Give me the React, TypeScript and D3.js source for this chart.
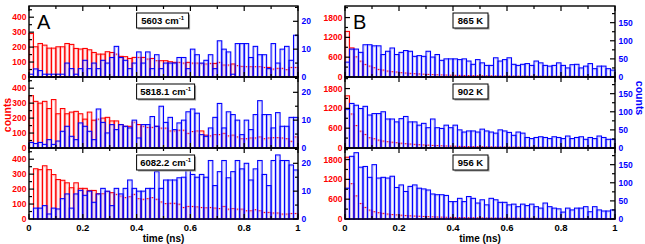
import React from 'react';
import * as d3 from 'd3';

// 60 time bins of 1/60 ns each
const BINS = 60;

const redA1 = [291, 202, 224, 213, 193, 193, 202, 202, 224, 218, 191, 187, 191, 182, 164, 153, 153, 169, 164, 153, 138, 136, 124, 131, 131, 131, 120, 124, 109, 109, 109, 102, 98, 98, 93, 98, 93, 93, 87, 87, 91, 91, 98, 80, 80, 87, 76, 71, 69, 69, 69, 69, 64, 64, 53, 58, 58, 49, 64, 64];
const blueA1 = [1, 2.9, 2.3, 1, 1, 1, 1, 1, 5, 3, 1, 3, 6, 3, 5, 3, 6, 5, 7, 11, 7, 6, 3, 5, 9, 5, 9, 3, 8, 3, 5, 5, 5, 7, 7, 3, 10, 8, 5, 6, 8, 3, 13, 10, 9, 1, 12, 12, 12, 7, 11, 8, 8, 3, 12, 5, 10, 11, 6, 15];
const redA2 = [350, 312, 300, 312, 264, 324, 229, 264, 229, 240, 245, 229, 193, 240, 186, 193, 200, 205, 181, 181, 157, 145, 145, 174, 157, 145, 138, 138, 145, 133, 133, 114, 114, 119, 119, 98, 110, 114, 114, 86, 81, 90, 90, 98, 81, 86, 74, 62, 62, 67, 67, 74, 62, 67, 69, 69, 67, 62, 45, 74];
const blueA2 = [2, 1.6, 2, 1.3, 3, 1.3, 2.5, 6, 7.8, 4.2, 3, 9, 7.8, 6, 3, 14, 9.2, 5.4, 8.4, 6.6, 8.4, 7.8, 7.2, 10, 3.6, 8.4, 8.4, 11.3, 7.8, 15, 9.2, 11, 6.6, 9, 10, 13, 14, 12.5, 4.8, 4.2, 7.2, 11, 16, 7.2, 13, 12, 10, 4.8, 10, 6.6, 12, 17, 12, 12, 7.2, 12.7, 7.8, 7.8, 11, 11];
const redA3 = [0, 336, 330, 356, 330, 297, 264, 259, 242, 209, 242, 205, 205, 191, 191, 169, 169, 182, 176, 165, 154, 143, 149, 165, 136, 132, 136, 143, 132, 114, 103, 105, 105, 99, 77, 84, 84, 81, 77, 75, 77, 73, 70, 84, 66, 70, 66, 66, 55, 55, 62, 55, 44, 44, 40, 40, 33, 33, 37, 37];
const blueA3 = [0, 3.9, 3.9, 4.8, 1.8, 3.9, 3.6, 7.3, 9, 3.9, 9, 10.3, 8.5, 10, 6, 9, 11, 10, 4.8, 11, 9, 11, 14, 11, 10, 10, 11, 11, 17, 11, 14, 14, 14, 14.8, 15, 20, 16, 15, 16, 15, 21, 12, 17, 21, 14.8, 17, 21, 18, 20, 14, 18, 21, 16, 12, 21, 23, 21, 21, 19.4, 17.6];

const redB1 = [1380, 880, 610, 480, 380, 330, 280, 230, 210, 180, 160, 150, 130, 120, 110, 100, 92, 85, 78, 72, 66, 62, 58, 54, 50, 48, 45, 42, 40, 38, 36, 35, 33, 32, 30, 29, 28, 27, 26, 25, 24, 24, 23, 22, 22, 21, 20, 20, 19, 19, 18, 18, 17, 17, 16, 16, 16, 15, 15, 15];
const blueB1 = [41, 77, 77, 68, 89, 89, 86, 86, 62, 71, 80, 62, 68, 73, 71, 57, 59, 57, 71, 55, 62, 46, 50, 50, 50, 48, 50, 44, 35, 48, 39, 32, 32, 53, 44, 48, 53, 35, 32, 35, 37, 32, 44, 39, 32, 30, 32, 39, 32, 25, 34, 35, 25, 30, 37, 23, 30, 30, 23, 19];
const redB2 = [1580, 1030, 680, 510, 410, 310, 280, 240, 210, 190, 175, 160, 145, 130, 120, 110, 100, 92, 85, 78, 72, 66, 60, 56, 52, 48, 45, 42, 40, 38, 36, 34, 32, 31, 30, 28, 27, 26, 25, 24, 23, 22, 22, 21, 20, 20, 19, 19, 18, 18, 17, 17, 16, 16, 16, 15, 15, 15, 14, 14];
const blueB2 = [107, 123, 118, 109, 115, 91, 95, 95, 100, 80, 80, 72, 81, 87, 72, 72, 63, 68, 56, 80, 56, 54, 63, 56, 63, 50, 44, 47, 47, 44, 52, 47, 44, 41, 50, 47, 43, 35, 44, 41, 29, 26, 29, 31, 29, 26, 31, 29, 26, 33, 26, 29, 31, 24, 29, 26, 33, 29, 24, 24];
const redB3 = [1870, 1070, 700, 470, 350, 270, 220, 190, 170, 150, 135, 125, 115, 105, 95, 88, 82, 76, 70, 65, 60, 56, 52, 48, 45, 42, 40, 38, 36, 34, 32, 30, 29, 28, 27, 26, 25, 24, 23, 22, 22, 21, 20, 20, 19, 19, 18, 18, 17, 17, 16, 16, 15, 15, 15, 14, 14, 14, 13, 13];
const blueB3 = [85, 173, 183, 143, 145, 115, 150, 113, 115, 113, 118, 87, 94, 76, 90, 94, 85, 83, 80, 69, 67, 67, 65, 48, 48, 57, 48, 62, 57, 44, 53, 39, 57, 53, 46, 46, 39, 41, 34, 41, 37, 41, 34, 30, 44, 34, 30, 28, 19, 30, 25, 30, 30, 34, 20, 34, 25, 22, 22, 25];

const labelsA = ['5603', '5818.1', '6082.2'];
const labelsB = ['865 K', '902 K', '956 K'];
const xTicks = [0, 0.2, 0.4, 0.6, 0.8, 1];
const leftTicksA = [0, 100, 200, 300, 400];
const rightTicksA = [0, 10, 20];
const leftTicksB = [0, 600, 1200, 1800];
const rightTicksB = [0, 50, 100, 150];

const FONT = 'Liberation Sans, Arial, Helvetica, sans-serif';
const RED = '#ff0000';
const BLUE = '#0000ff';

function Panel(props: any) {
  const { x0, x1, top, h, red, blue, leftMax, rightMax, leftTicks, rightTicks, leftMinor, rightMinor, label, isCm, letter, showX } = props;
  const bottom = top + h;
  const x = d3.scaleLinear().domain([0, 1]).range([x0, x1]);
  const yl = d3.scaleLinear().domain([0, leftMax]).range([bottom, top]).clamp(true);
  const yr = d3.scaleLinear().domain([0, rightMax]).range([bottom, top]).clamp(true);

  const bars = (vals: number[], y: any, color: string, light: string) =>
    vals.map((v, i) => {
      if (!v) return null;
      const bx = x(i / BINS);
      const bw = x((i + 1) / BINS) - bx;
      const by = y(v);
      const bh = bottom - by;
      return (
        <g key={i}>
          {bw > 3 && bh > 3 && (
            <rect x={bx + 1.2} y={by + 1.2} width={bw - 2.4} height={bh - 1.2} fill="none" stroke={light} strokeWidth={0.8} />
          )}
          <rect x={bx} y={by} width={bw} height={bh} fill="none" stroke={color} strokeWidth={1.1} />
        </g>
      );
    });

  const minorX = d3.range(0, 1.0001, 0.1);
  // label box grows with the text
  const boxW = isCm ? label.length * 3 + 40 : label.length * 5.6 + 7;
  const bxl = x(0.4);

  return (
    <g>
      {bars(red, yl, RED, '#ffc4c4')}
      {bars(blue, yr, BLUE, '#c4c4ff')}
      <rect x={x0} y={top} width={x1 - x0} height={h} fill="none" stroke="#000" strokeWidth={1.4} />
      {minorX.map((t, i) => {
        const len = i % 2 === 0 ? 5 : 3;
        return (
          <g key={'xt' + i}>
            <line x1={x(t)} x2={x(t)} y1={bottom} y2={bottom - len} stroke="#000" strokeWidth={1.2} />
            <line x1={x(t)} x2={x(t)} y1={top} y2={top + len} stroke="#000" strokeWidth={1.2} />
          </g>
        );
      })}
      {leftMinor.map((t: number, i: number) => (
        <line key={'lm' + i} x1={x0} x2={x0 + 3} y1={yl(t)} y2={yl(t)} stroke="#000" strokeWidth={1.2} />
      ))}
      {leftTicks.map((t: number, i: number) => (
        <g key={'lt' + i}>
          <line x1={x0} x2={x0 + 5} y1={yl(t)} y2={yl(t)} stroke="#000" strokeWidth={1.2} />
          <text x={x0 - 2.5} y={yl(t)} dy="0.35em" textAnchor="end" fill={RED} fontSize={8.5} fontWeight="bold" fontFamily={FONT}>{t}</text>
        </g>
      ))}
      {rightMinor.map((t: number, i: number) => (
        <line key={'rm' + i} x1={x1} x2={x1 - 3} y1={yr(t)} y2={yr(t)} stroke="#000" strokeWidth={1.2} />
      ))}
      {rightTicks.map((t: number, i: number) => (
        <g key={'rt' + i}>
          <line x1={x1} x2={x1 - 5} y1={yr(t)} y2={yr(t)} stroke="#000" strokeWidth={1.2} />
          <text x={x1 + 3.5} y={yr(t)} dy="0.35em" textAnchor="start" fill={BLUE} fontSize={8.5} fontWeight="bold" fontFamily={FONT}>{t}</text>
        </g>
      ))}
      <rect x={bxl + 1.5} y={top + 8.5} width={boxW} height={15} fill="#999" />
      <rect x={bxl} y={top + 7} width={boxW} height={15} fill="#fff" stroke="#000" strokeWidth={1} />
      <text x={bxl + boxW / 2} y={top + 18} textAnchor="middle" fontSize={9.5} fontWeight="bold" fontFamily={FONT}>
        {isCm ? (
          <>
            {label + ' cm'}
            <tspan fontSize={6} dy={-4}>-1</tspan>
          </>
        ) : label}
      </text>
      {letter && (
        <text x={x0 + 8} y={top + 23} fontSize={20} fontFamily={FONT}>{letter}</text>
      )}
      {showX && xTicks.map((t, i) => (
        <text key={'xl' + i} x={x(t)} y={bottom + 12} textAnchor="middle" fontSize={9.5} fontWeight="bold" fontFamily={FONT}>{t}</text>
      ))}
      {showX && (
        <text x={(x0 + x1) / 2} y={bottom + 23} textAnchor="middle" fontSize={10} fontWeight="bold" fontFamily={FONT}>time (ns)</text>
      )}
    </g>
  );
}

export default function App() {
  const W = 645;
  const H = 244;
  const rowTop = [6, 77, 148];
  const rowH = 71;
  const A = { x0: 29, x1: 298 };
  const B = { x0: 345, x1: 615 };
  const redA = [redA1, redA2, redA3];
  const blueA = [blueA1, blueA2, blueA3];
  const redB = [redB1, redB2, redB3];
  const blueB = [blueB1, blueB2, blueB3];

  return (
    <svg width={W} height={H} style={{ position: 'absolute', left: 0, top: 0, background: '#fff' }}>
      {rowTop.map((top, r) => (
        <g key={'a' + r}>
          <Panel {...A} top={top} h={rowH} red={redA[r]} blue={blueA[r]} leftMax={475} rightMax={25.5}
            leftTicks={leftTicksA} rightTicks={rightTicksA} leftMinor={d3.range(50, 475, 100)} rightMinor={d3.range(5, 25.5, 10)}
            label={labelsA[r]} isCm={true} letter={r === 0 ? 'A' : null} showX={r === 2} />
          <Panel {...B} top={top} h={rowH} red={redB[r]} blue={blueB[r]} leftMax={2150} rightMax={196}
            leftTicks={leftTicksB} rightTicks={rightTicksB} leftMinor={d3.range(300, 2150, 600)} rightMinor={d3.range(25, 196, 50)}
            label={labelsB[r]} isCm={false} letter={r === 0 ? 'B' : null} showX={r === 2} />
        </g>
      ))}
      <text transform="translate(11,115) rotate(-90)" textAnchor="middle" fill={RED} fontSize={10.5} fontWeight="bold" fontFamily={FONT}>counts</text>
      <text transform="translate(636,98) rotate(90)" textAnchor="middle" fill={BLUE} fontSize={10.5} fontWeight="bold" fontFamily={FONT}>counts</text>
    </svg>
  );
}
